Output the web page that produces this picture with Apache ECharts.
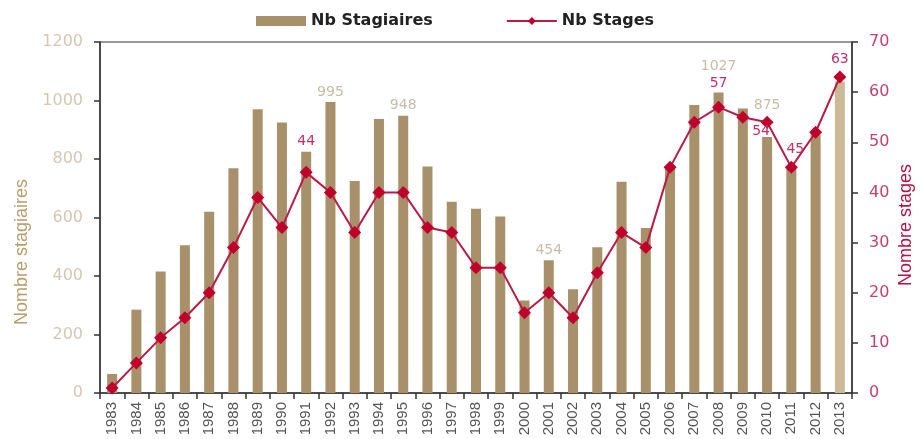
<!DOCTYPE html>
<html>
<head>
<meta charset="utf-8">
<script src="https://cdn.jsdelivr.net/npm/echarts@6/dist/echarts.min.js"></script>
<style>
    html, body { margin: 0; padding: 0; background: #fff; }
    #chart { width: 922px; height: 439px; }
</style>
</head>
<body>
<div id="chart"></div>
<script>
    // years on the x axis
    var years = ['1983', '1984', '1985', '1986', '1987', '1988', '1989', '1990', '1991', '1992',
        '1993', '1994', '1995', '1996', '1997', '1998', '1999', '2000', '2001', '2002',
        '2003', '2004', '2005', '2006', '2007', '2008', '2009', '2010', '2011', '2012', '2013'];

    // Nb Stagiaires (bars, left axis)
    var stagiaires = [65, 285, 415, 505, 620, 768, 970, 925, 825, 995,
        725, 937, 948, 774, 654, 630, 603, 316, 454, 355,
        498, 722, 564, 775, 985, 1027, 973, 875, 770, 885, 1065];

    // Nb Stages (line, right axis)
    var stages = [1, 6, 11, 15, 20, 29, 39, 33, 44, 40,
        32, 40, 40, 33, 32, 25, 25, 16, 20, 15,
        24, 32, 29, 45, 54, 57, 55, 54, 45, 52, 63];

    // which values get a printed label
    var stagiairesLabelled = ['1992', '1995', '2001', '2008', '2010'];
    var stagesLabelled = ['1991', '2008', '2010', '2011', '2013'];

    // left / right axis ticks
    var leftTicks = {min: 0, max: 1200, step: 200};
    var rightTicks = {min: 0, max: 70, step: 10};

    // label nudges (styling only)
    var barLabelOffset = {'2008': [0, -16], '2010': [0, -22]};
    var lineLabelOffset = {'1991': [0, -14], '2008': [0, -6], '2011': [4, 0]};

    var barColor = '#a8906a';
    var lastBarColor = '#cbb998';
    var lineColor = '#b81b45';
    var markerColor = '#c0002c';

    var barData = stagiaires.map(function (v, i) {
        var y = years[i];
        var item = {value: v};
        if (i === years.length - 1) {
            item.itemStyle = {color: lastBarColor};
        }
        if (stagiairesLabelled.indexOf(y) >= 0) {
            item.label = {
                show: true,
                position: 'top',
                distance: 3,
                offset: barLabelOffset[y] || [0, 0],
                color: '#c8bca8',
                fontFamily: 'DejaVu Sans',
                fontSize: 14
            };
        }
        return item;
    });

    var lineData = stages.map(function (v, i) {
        var y = years[i];
        var item = {value: v};
        if (stagesLabelled.indexOf(y) >= 0) {
            item.label = {
                show: true,
                position: 'top',
                distance: 4,
                offset: lineLabelOffset[y] || [0, 0],
                color: '#c0306a',
                fontFamily: 'DejaVu Sans',
                fontSize: 14
            };
            // 2010 sits under its marker, a bit to the left
            if (y === '2010') {
                item.label.position = 'bottom';
                item.label.distance = 0;
                item.label.offset = [-6, -4];
            }
        }
        return item;
    });

    var chart = echarts.init(document.getElementById('chart'));
    var option = {
        animation: false,
        legend: {
            top: 8,
            left: 251,
            itemWidth: 50,
            itemHeight: 10,
            itemGap: 73,
            textStyle: {
                fontFamily: 'DejaVu Sans',
                fontWeight: 'bold',
                fontSize: 16,
                color: '#222'
            },
            data: [
                {name: 'Nb Stagiaires', icon: 'rect'},
                {name: 'Nb Stages'}
            ]
        },
        grid: {
            left: 100,
            right: 70,
            top: 42,
            bottom: 46,
            show: true,
            borderColor: '#333',
            borderWidth: 1
        },
        xAxis: {
            type: 'category',
            data: years,
            boundaryGap: true,
            axisLine: {lineStyle: {color: '#333', width: 1.5}},
            axisTick: {show: true, length: 6, lineStyle: {color: '#333', width: 1.5}},
            axisLabel: {
                rotate: 90,
                margin: 9,
                interval: 0,
                color: '#555',
                fontFamily: 'Liberation Sans',
                fontSize: 15
            }
        },
        yAxis: [
            {
                type: 'value',
                min: leftTicks.min,
                max: leftTicks.max,
                interval: leftTicks.step,
                splitLine: {show: false},
                axisLine: {show: true, lineStyle: {color: '#333', width: 1.5}},
                axisTick: {show: true, length: 6, lineStyle: {color: '#333', width: 1.5}},
                axisLabel: {
                    margin: 17,
                    color: '#d4c8b4',
                    fontFamily: 'DejaVu Sans',
                    fontSize: 16,
                    formatter: function (v) { return String(v); }
                }
            },
            {
                type: 'value',
                position: 'right',
                min: rightTicks.min,
                max: rightTicks.max,
                interval: rightTicks.step,
                splitLine: {show: false},
                axisLine: {show: true, lineStyle: {color: '#333', width: 1.5}},
                axisTick: {show: true, length: 6, lineStyle: {color: '#333', width: 1.5}},
                axisLabel: {
                    margin: 17,
                    color: '#c4406f',
                    fontFamily: 'DejaVu Sans',
                    fontSize: 16
                }
            }
        ],
        graphic: [
            {
                type: 'text',
                x: 22,
                y: 252,
                rotation: Math.PI / 2,
                style: {
                    text: 'Nombre stagiaires',
                    fill: '#b99c6c',
                    font: '18px "Liberation Sans"',
                    align: 'center',
                    verticalAlign: 'middle'
                }
            },
            {
                type: 'text',
                x: 906,
                y: 225,
                rotation: Math.PI / 2,
                style: {
                    text: 'Nombre stages',
                    fill: '#b01445',
                    font: '18px "Liberation Sans"',
                    align: 'center',
                    verticalAlign: 'middle'
                }
            }
        ],
        series: [
            {
                name: 'Nb Stagiaires',
                type: 'bar',
                yAxisIndex: 0,
                barWidth: 10,
                itemStyle: {color: barColor},
                data: barData
            },
            {
                name: 'Nb Stages',
                type: 'line',
                yAxisIndex: 1,
                symbol: 'diamond',
                symbolSize: 13,
                lineStyle: {color: lineColor, width: 2},
                itemStyle: {color: markerColor},
                data: lineData
            }
        ]
    };
    chart.setOption(option);
</script>
</body>
</html>
